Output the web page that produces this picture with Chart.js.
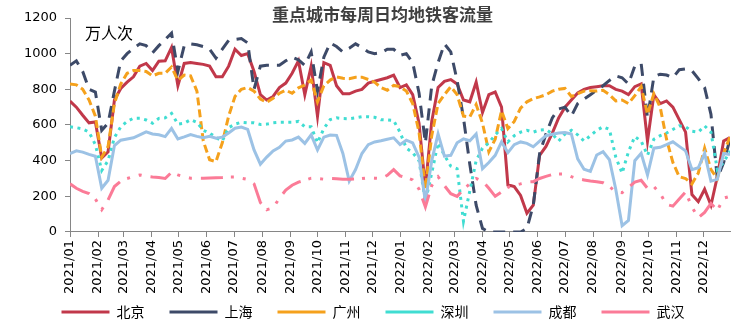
<!DOCTYPE html>
<html>
<head>
<meta charset="utf-8">
<script src="https://cdn.jsdelivr.net/npm/chart.js@4"></script>
<style>
  html, body { margin: 0; padding: 0; background: #fff; }
  #wrap { width: 753px; height: 325px; }
</style>
</head>
<body>
<div id="wrap"><canvas id="myChart"></canvas></div>
<script>
// weekly data, first week starts 2021/01/01
const firstWeek = Date.UTC(2021, 0, 1);

const chartTitle = '重点城市每周日均地铁客流量';
const unitText = '万人次';

const monthLabels = ['2021/01', '2021/02', '2021/03', '2021/04', '2021/05', '2021/06',
  '2021/07', '2021/08', '2021/09', '2021/10', '2021/11', '2021/12',
  '2022/01', '2022/02', '2022/03', '2022/04', '2022/05', '2022/06',
  '2022/07', '2022/08', '2022/09', '2022/10', '2022/11', '2022/12'];

const cities = ['北京', '上海', '广州', '深圳', '成都', '武汉'];

const beijing = [734, 700, 655, 612, 617, 415, 450, 740, 805, 840, 870, 930, 945, 905, 958, 960, 1035, 820,
  945, 950, 945, 940, 930, 870, 870, 930, 1025, 990, 1000, 900, 770, 740, 760, 810, 835, 890, 960, 770,
  930, 650, 950, 935, 820, 775, 775, 790, 800, 835, 845, 855, 865, 880, 810, 825, 770, 610, 250, 620,
  810, 845, 855, 830, 740, 730, 840, 670, 770, 785, 700, 265, 255, 205, 105, 150, 430, 480, 555, 640,
  700, 740, 780, 800, 810, 815, 820, 820, 800, 790, 770, 815, 830, 510, 770, 720, 735, 700, 630, 560,
  210, 170, 240, 150, 310, 510, 530];

const shanghai = [935, 960, 900, 800, 785, 570, 610, 790, 960, 1000, 1030, 1055, 1045, 1005, 1045, 1080,
  1115, 900, 1045, 1055, 1050, 1040, 1025, 975, 1025, 1075, 1080, 1085, 1060, 800, 930, 935, 935, 935,
  960, 980, 965, 935, 1010, 790, 980, 1060, 1040, 1010, 1030, 1055, 1035, 1010, 1000, 1005, 1025, 1025,
  990, 1000, 950, 780, 500, 820, 950, 1055, 1010, 850, 640, 380, 150, 20, 0, 0, 0, 0, 0, 0, 20, 150,
  440, 550, 640, 690, 700, 650, 720, 745, 770, 795, 820, 850, 875, 865, 830, 930, 945, 640, 870, 885,
  880, 865, 910, 915, 905, 860, 810, 660, 300, 390, 520];

const guangzhou = [830, 825, 800, 740, 650, 420, 480, 720, 830, 890, 905, 905, 900, 875, 890, 890, 925,
  850, 880, 875, 790, 510, 405, 395, 500, 650, 760, 800, 810, 790, 745, 727, 750, 778, 795, 778, 808,
  824, 852, 730, 820, 852, 870, 862, 860, 868, 868, 855, 840, 810, 795, 822, 815, 790, 720, 560, 240,
  540, 720, 770, 815, 770, 650, 645, 715, 610, 450, 520, 680, 580, 620, 695, 730, 748, 758, 770, 790,
  800, 805, 760, 775, 790, 792, 790, 795, 770, 735, 740, 720, 765, 815, 660, 775, 700, 520, 390, 310,
  300, 270, 330, 470, 350, 300, 440, 535];

const shenzhen = [590, 585, 578, 560, 490, 345, 400, 530, 590, 620, 638, 638, 628, 610, 637, 640, 665,
  605, 610, 630, 615, 570, 555, 530, 510, 585, 605, 615, 612, 612, 603, 605, 612, 615, 615, 615, 620,
  590, 590, 500, 580, 630, 640, 636, 635, 640, 646, 646, 643, 630, 628, 625, 560, 470, 445, 400, 170,
  330, 500, 430, 370, 355, 60, 230, 400, 470, 500, 545, 580, 505, 540, 560, 570, 560, 572, 575, 550,
  510, 550, 570, 545, 510, 540, 570, 590, 575, 420, 330, 450, 535, 510, 430, 520, 540, 555, 575, 595,
  590, 565, 560, 595, 560, 350, 390, 455];

const chengdu = [440, 455, 448, 435, 425, 245, 290, 485, 515, 522, 528, 545, 562, 550, 545, 535, 581,
  522, 533, 546, 536, 528, 536, 526, 532, 555, 582, 588, 575, 460, 380, 420, 455, 475, 510, 516, 532,
  497, 545, 460, 532, 544, 542, 440, 285, 350, 440, 490, 505, 512, 520, 528, 490, 515, 500, 420, 170,
  400, 550, 425, 430, 500, 522, 512, 550, 355, 390, 430, 505, 445, 490, 505, 497, 478, 510, 540, 548,
  555, 558, 550, 410, 352, 340, 432, 450, 405, 240, 35, 65, 400, 441, 320, 470, 475, 490, 506, 480,
  455, 350, 360, 441, 285, 295, 440, 435];

const wuhan = [270, 245, 228, 215, 185, 125, 180, 255, 285, 300, 310, 320, 312, 308, 305, 300, 335, 320,
  310, 302, 302, 302, 303, 304, 305, 308, 308, 302, 295, 270, 165, 125, 135, 190, 235, 262, 280, 290,
  302, 300, 296, 300, 298, 296, 296, 297, 300, 304, 302, 300, 318, 350, 315, 305, 292, 240, 140, 260,
  310, 260, 215, 200, 240, 270, 300, 285, 245, 200, 225, 250, 262, 270, 280, 282, 300, 312, 322, 325,
  325, 310, 298, 292, 286, 282, 276, 255, 225, 220, 250, 280, 290, 245, 255, 215, 155, 145, 185, 225,
  140, 80, 110, 160, 120, 190, 200];

const series = [beijing, shanghai, guangzhou, shenzhen, chengdu, wuhan];
const colors = ['#C1384A', '#3D4A68', '#F5A11C', '#40DDD2', '#9CC2E5', '#FB7B97'];
const dashes = [[], [12, 8], [8, 4], [3, 4.5], [], [22, 8, 3, 9, 3, 9]];

// month start positions (in weeks) for the x ticks
const monthTicks = monthLabels.map(l => {
  const [y, m] = l.split('/');
  return (Date.UTC(+y, +m - 1, 1) - firstWeek) / (7 * 86400000);
});

const axisGrey = '#868686';

// title above the plot and the unit label inside it
const chartTexts = {
  id: 'chartTexts',
  afterLayout(chart) {
    // move the legend row a bit lower and to the right
    chart.legend.top += 4;
    chart.legend.bottom += 4;
    chart.legend.left += 10;
    chart.legend.right += 10;
  },
  afterDraw(chart) {
    const ctx = chart.ctx;
    ctx.save();
    ctx.textBaseline = 'middle';
    ctx.textAlign = 'center';
    ctx.fillStyle = '#3f3f3f';
    ctx.font = 'bold 17px "Noto Sans CJK SC"';
    ctx.fillText(chartTitle, chart.width / 2 + 6, 15);
    ctx.textAlign = 'left';
    ctx.fillStyle = '#000';
    ctx.font = '16px "Noto Sans CJK SC"';
    ctx.fillText(unitText, chart.chartArea.left + 15, 33);
    ctx.restore();
  }
};

new Chart(document.getElementById('myChart'), {
  type: 'line',
  data: {
    datasets: series.map((s, i) => ({
      label: cities[i],
      data: s.map((v, w) => ({ x: w, y: v })),
      borderColor: colors[i],
      backgroundColor: colors[i],
      borderWidth: 3,
      borderDash: dashes[i],
      pointRadius: 0,
      tension: 0,
      order: series.length - i
    }))
  },
  options: {
    responsive: true,
    maintainAspectRatio: false,
    animation: false,
    layout: { padding: { left: 17, right: 23, top: 18, bottom: 0 } },
    scales: {
      x: {
        type: 'linear',
        min: 0,
        max: beijing.length - 1,
        afterBuildTicks: scale => { scale.ticks = monthTicks.map(v => ({ value: v })); },
        ticks: {
          autoSkip: false,
          minRotation: 90,
          maxRotation: 90,
          padding: 3,
          color: '#000',
          font: { family: 'DejaVu Sans', size: 13 },
          callback: (v, i) => monthLabels[i]
        },
        grid: { drawOnChartArea: false, tickLength: 5, tickColor: axisGrey },
        border: { color: axisGrey }
      },
      y: {
        min: 0,
        max: 1200,
        afterFit: scale => { scale.width = 53; },
        ticks: {
          stepSize: 200,
          padding: 8,
          color: '#000',
          font: { family: 'DejaVu Sans', size: 13 },
          callback: v => v
        },
        grid: { drawOnChartArea: false, tickLength: 5, tickColor: axisGrey },
        border: { color: axisGrey }
      }
    },
    plugins: {
      title: { display: false },
      legend: {
        position: 'bottom',
        labels: {
          usePointStyle: true,
          pointStyle: 'line',
          pointStyleWidth: 48,
          padding: 4,
          color: '#000',
          font: { family: 'Noto Sans CJK SC', size: 14 },
          sort: (a, b) => a.datasetIndex - b.datasetIndex,
          // trailing spaces keep the gap between legend entries
          generateLabels: chart => Chart.defaults.plugins.legend.labels.generateLabels(chart)
            .map(item => Object.assign(item, { text: item.text + '\u3000\u2002' }))
        }
      },
      tooltip: { enabled: false }
    }
  },
  plugins: [chartTexts]
});
</script>
</body>
</html>
